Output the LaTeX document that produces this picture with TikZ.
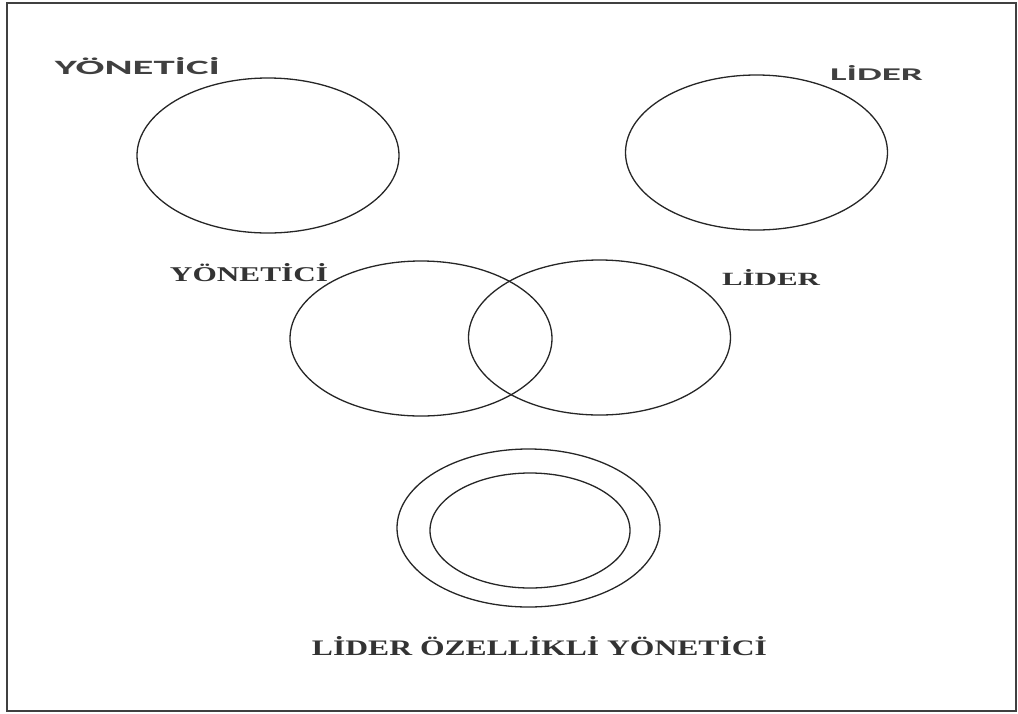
\documentclass[tikz,border=0pt]{standalone}
\usepackage{fontspec}
\setmainfont{Liberation Serif}
\newfontfamily\etiketfont{Carlito}
\usetikzlibrary{shapes.geometric}

% 标签按图中大小拉伸
\newcommand{\etiket}[3]{\resizebox{#1pt}{#2pt}{#3}}

\begin{document}
\begin{tikzpicture}[
    x=1pt, y=-1pt,
    every node/.style={inner sep=0pt, outer sep=0pt},
    halka/.style={draw=black!85, line width=1.3pt, ellipse,
      minimum width=262pt, minimum height=155pt},
    ustyazi/.style={text=black!75, font=\etiketfont\bfseries},
    altyazi/.style={text=black!80, font=\bfseries},
  ]
    \useasboundingbox (0,0) rectangle (1018,713);

    % 外框
    \draw[line width=2pt, draw=black!75] (7,3) rectangle (1016,711);

    % 上排：两个分开的圆
    \node[halka] (yon) at (268,155.5) {};
    \node[halka] (lid) at (756.5,152.5) {};
    \node[ustyazi] (yonYazi) at (137.5,66.5) {\etiket{165}{17}{YÖNETİCİ}};
    \node[ustyazi] (lidYazi) at (876.5,72.5) {\etiket{93}{15}{LİDER}};

    % 中排：相交的两个圆
    \node[halka] (yonB) at (421,338.5) {};
    \node[halka] (lidB) at (599.5,337.5) {};
    \node[altyazi] (yonBYazi) at (249,272.5) {\etiket{158}{18}{YÖNETİCİ}};
    \node[altyazi] (lidBYazi) at (771,277.5) {\etiket{98}{16}{LİDER}};

    % 下排：内外两个圆
    \node[halka, minimum height=158pt, minimum width=263pt] (dis) at (528.5,528) {};
    \node[halka, minimum height=115pt, minimum width=200pt] (ic) at (530,530.5) {};
    \node[altyazi] (altYazi) at (539.5,646.5)
      {\etiket{455}{19}{LİDER ÖZELLİKLİ YÖNETİCİ}};
  \end{tikzpicture}
\end{document}
